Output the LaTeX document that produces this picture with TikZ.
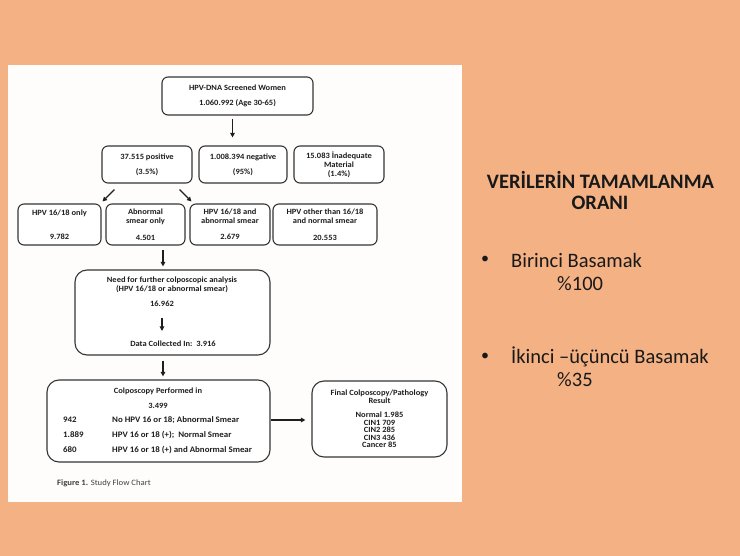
\documentclass[tikz,border=0pt]{standalone}
\usepackage{fontspec}
\setmainfont{Carlito}
\newfontfamily\chartfont[FakeStretch=1.06]{Carlito}
\usetikzlibrary{arrows.meta}

\definecolor{slidebg}{HTML}{F4B183}
\definecolor{paper}{HTML}{FFFDFB}
\definecolor{ink}{HTML}{1E1E1E}

\tikzset{
  box/.style={draw=ink!90, line width=1.1pt, rounded corners=6pt, fill=white,
    align=center, inner sep=1pt, text=ink,
    font=\chartfont\fontsize{8}{8.8}\selectfont\bfseries},
  bigbox/.style={box, rounded corners=12pt},
  lbl/.style={text=ink, inner sep=0pt, font=\chartfont\fontsize{8}{8.8}\selectfont\bfseries},
  rowlbl/.style={lbl, anchor=west, font=\chartfont\fontsize{8.4}{9}\selectfont\bfseries},
  arr/.style={-{Triangle[length=4.5pt,width=4.5pt]}, line width=1.3pt, ink},
  slide/.style={text=black!90, inner sep=0pt, font=\fontsize{20.5}{23}\selectfont},
  heading/.style={slide, font=\fontsize{20.5}{23}\selectfont\bfseries}
}

\begin{document}
\begin{tikzpicture}[x=1pt,y=-1pt]
\useasboundingbox (0,0) rectangle (740,556);
\fill[slidebg] (0,0) rectangle (740,556);
\fill[paper] (8,65) rectangle (462,502);

% first level
\node[box, minimum width=151, minimum height=38] (screened) at (237.5,96)
  {HPV-DNA Screened Women\\[6.5pt]1.060.992 (Age 30-65)};

\node[box, minimum width=90, minimum height=37] (positive) at (147,164.5)
  {37.515 positive\\[6pt](3.5\%)};
\node[box, minimum width=88, minimum height=37] (negative) at (243,164.5)
  {1.008.394 negative\\[6pt](95\%)};
\node[box, minimum width=90, minimum height=37] (inadequate) at (339,164.5)
  {15.083 İnadequate\\Material\\(1.4\%)};

% positive results split
\node[box, minimum width=83, minimum height=41] (hpvonly) at (59.5,224.5)
  {HPV 16/18 only\\[15pt]9.782};
\node[box, minimum width=79, minimum height=41] (abnormal) at (145.5,224.5)
  {Abnormal\\smear only\\[8pt]4.501};
\node[box, minimum width=80, minimum height=41] (both) at (230,224.5)
  {HPV 16/18 and\\abnormal smear\\[7pt]2.679};
\node[box, minimum width=104, minimum height=41] (other) at (325,224.5)
  {HPV other than 16/18\\and normal smear\\[8pt]20.553};

% need for colposcopy
\node[bigbox, minimum width=195, minimum height=85] (need) at (172.5,312.5) {};
\node[lbl, align=center] (needtxt) at (172,285)
  {Need for further colposcopic analysis\\(HPV 16/18 or abnormal smear)};
\node[lbl] (needcount) at (162,304) {16.962};
\node[lbl] (collected) at (173,344) {Data Collected In:\ \ 3.916};

% colposcopy
\node[bigbox, minimum width=223, minimum height=82] (colpo) at (158.5,421) {};
\node[lbl] (colpotitle) at (158,391) {Colposcopy Performed in};
\node[lbl] (colpocount) at (158,406) {3.499};
\node[rowlbl] (nA) at (63,420) {942};
\node[rowlbl] (nB) at (63,435) {1.889};
\node[rowlbl] (nC) at (63,450) {680};
\node[rowlbl] (dA) at (112,420) {No HPV 16 or 18; Abnormal Smear};
\node[rowlbl] (dB) at (112,435) {HPV 16 or 18 (+);\ \ Normal Smear};
\node[rowlbl] (dC) at (112,450) {HPV 16 or 18 (+) and Abnormal Smear};

\node[bigbox, minimum width=135, minimum height=76, font=\chartfont\fontsize{8}{7.5}\selectfont\bfseries] (final) at (379.5,419)
  {Final Colposcopy/Pathology\\Result\\[7pt]Normal 1.985\\CIN1 709\\CIN2 285\\CIN3 436\\Cancer 85};

\node[lbl, anchor=west, font=\chartfont\fontsize{8.2}{9}\selectfont, text=black!75] (caption) at (57,483)
  {\textbf{Figure 1.} Study Flow Chart};

% arrows
\draw[arr, shorten <=3pt, shorten >=8pt] ([xshift=-5pt]screened.south) -- ([xshift=-5pt]screened.south |- negative.north);
\draw[arr] ([xshift=13pt,yshift=-6pt]positive.south west) -- ([xshift=1pt,yshift=2pt]hpvonly.north east);
\draw[arr] ([xshift=-13pt,yshift=-6pt]positive.south east) -- ([xshift=2pt,yshift=2pt]both.north west);
\draw[arr, shorten <=4pt, shorten >=3pt] ([xshift=-9.5pt]need.north |- both.south) -- ([xshift=-9.5pt]need.north);
\draw[arr, shorten <=11pt, shorten >=10pt] (needcount) -- (needcount |- collected.north);
\draw[arr, shorten <=5pt, shorten >=3pt] ([xshift=-9.5pt]need.south) -- ([xshift=-9.5pt]need.south |- colpo.north);
\draw[arr, shorten >=6pt] (colpo.east |- nA) -- (final.west |- nA);

% slide text
\node[heading] (titleA) at (600.5,180) {VERİLERİN TAMAMLANMA};
\node[heading] (titleB) at (600,203) {ORANI};
\node[slide, font=\fontsize{16}{20}\selectfont] (bulA) at (485,260) {•};
\node[slide, anchor=west] (stepA) at (511,260) {Birinci Basamak};
\node[slide, anchor=west] (rateA) at (557,284) {\%100};
\node[slide, font=\fontsize{16}{20}\selectfont] (bulB) at (485,357) {•};
\node[slide, anchor=west] (stepB) at (511,357) {İkinci –üçüncü Basamak};
\node[slide, anchor=west] (rateB) at (557,380) {\%35};
\end{tikzpicture}
\end{document}
